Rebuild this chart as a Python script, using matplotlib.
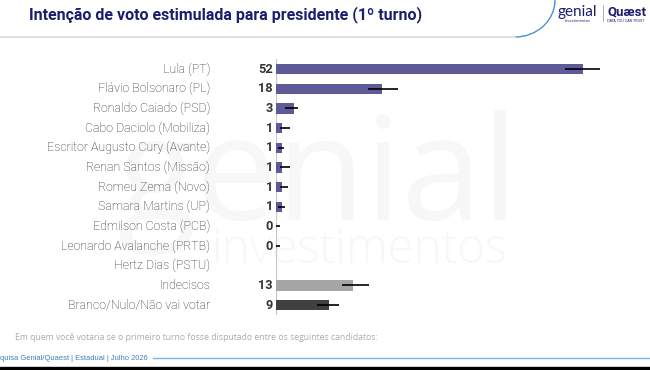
import matplotlib.pyplot as plt
import numpy as np
from matplotlib.patches import Arc

# dados
candidatos = ["Lula (PT)", "Flávio Bolsonaro (PL)", "Ronaldo Caiado (PSD)",
              "Cabo Daciolo (Mobiliza)", "Escritor Augusto Cury (Avante)",
              "Renan Santos (Missão)", "Romeu Zema (Novo)", "Samara Martins (UP)",
              "Edmilson Costa (PCB)", "Leonardo Avalanche (PRTB)",
              "Hertz Dias (PSTU)", "Indecisos", "Branco/Nulo/Não vai votar"]
valores = [52, 18, 3, 1, 1, 1, 1, 1, 0, 0, None, 13, 9]
erro_baixo = [3.0, 2.4, 1.4, 0.4, 0.7, 0.4, 0.4, 0.7, 0.0, 0.0, 0, 1.8, 2.1]
erro_alto = [2.9, 2.6, 0.7, 1.4, 0.3, 1.3, 1.0, 0.45, 0.6, 0.6, 0, 2.8, 1.75]

titulo = "Intenção de voto estimulada para presidente (1º turno)"
pergunta = "Em quem você votaria se o primeiro turno fosse disputado entre os seguintes candidatos:"
fonte = "Pesquisa Genial/Quaest | Estadual | Julho 2026"

roxo = "#5E5A97"
cores_especiais = {"Indecisos": "#A5A5A5", "Branco/Nulo/Não vai votar": "#404040"}
navy = "#1C1D6E"

W, H = 650, 370
fig = plt.figure(figsize=(W / 100, H / 100), dpi=100)
fig.patch.set_facecolor("white")

# camada de fundo em pixels
bg = fig.add_axes([0, 0, 1, 1], zorder=0)
bg.set_xlim(0, W)
bg.set_ylim(H, 0)
bg.axis("off")

# marca d'agua
bg.text(118, 220, "genial", fontsize=104, color="#F7F7F7", family="Open Sans",
        ha="left", va="baseline")
bg.text(211, 263, "investimentos", fontsize=34, color="#F7F7F7", family="Open Sans",
        fontweight="light", ha="left", va="baseline")

# cabecalho
bg.text(29, 19.5, titulo, fontsize=11.5, fontweight="bold", color=navy,
        family="Roboto", ha="left", va="baseline")
bg.plot([0, 515], [37, 37], color="#D5DCE6", lw=1.2)
bg.add_patch(Arc((515, 0), 80, 74, theta1=0, theta2=90, color="#4A8FD6", lw=1.0))
bg.text(557, 16, "genial", fontsize=11, color=navy, family="Lato",
        ha="left", va="baseline")
bg.text(565, 21.5, "investimentos", fontsize=2.6, color=navy, ha="left", va="baseline")
bg.plot([603, 603], [5, 21], color="#9AA0B8", lw=0.6)
bg.text(607, 15.5, "Quæst", fontsize=9.5, fontweight="bold", color=navy,
        family="Roboto", ha="left", va="baseline")
bg.text(607, 21.5, "DATA YOU CAN TRUST", fontsize=2.4, color=navy, ha="left", va="baseline")

# rodape
bg.text(15, 340, pergunta, fontsize=6.2, color="#ABABAB", family="Open Sans",
        ha="left", va="baseline")
bg.text(148, 360, fonte, fontsize=5.4, color="#3A7FC1",
        family="Liberation Sans", ha="right", va="baseline")
bg.plot([153, W], [358, 358], color="#7DB3E3", lw=1.0)
bg.add_patch(plt.Rectangle((0, 367), W, 3, color="black"))

# grafico de barras
x0, px_un = 276, 5.9
y_top, y_bot = 59.2, 315
ax = fig.add_axes([x0 / W, 1 - y_bot / H, (630 - x0) / W, (y_bot - y_top) / H], zorder=1)
ax.patch.set_alpha(0)
ax.set_xlim(0, (630 - x0) / px_un)
n = len(candidatos)
ax.set_ylim(n - 0.5, -0.5)
ax.axis("off")
ax.axvline(0, color="#C8C8C8", lw=1.6, zorder=1)

for i, (c, v) in enumerate(zip(candidatos, valores)):
    ax.text(-11.2, i, c, ha="right", va="center", fontsize=8.9, color="#262626",
            family="Roboto", fontweight="light")
    if v is None:
        continue
    cor = cores_especiais.get(c, roxo)
    ax.barh(i, v, height=0.52, color=cor, zorder=2)
    ax.errorbar(v, i, xerr=[[erro_baixo[i]], [erro_alto[i]]], fmt="none",
                ecolor="black", elinewidth=1.2, capsize=0, zorder=3)
    ax.text(-0.55, i, str(v), ha="right", va="center", fontsize=9.2,
            fontweight="bold", color="#333333", family="Roboto")

fig.savefig("out.png", dpi=100, facecolor="white")
